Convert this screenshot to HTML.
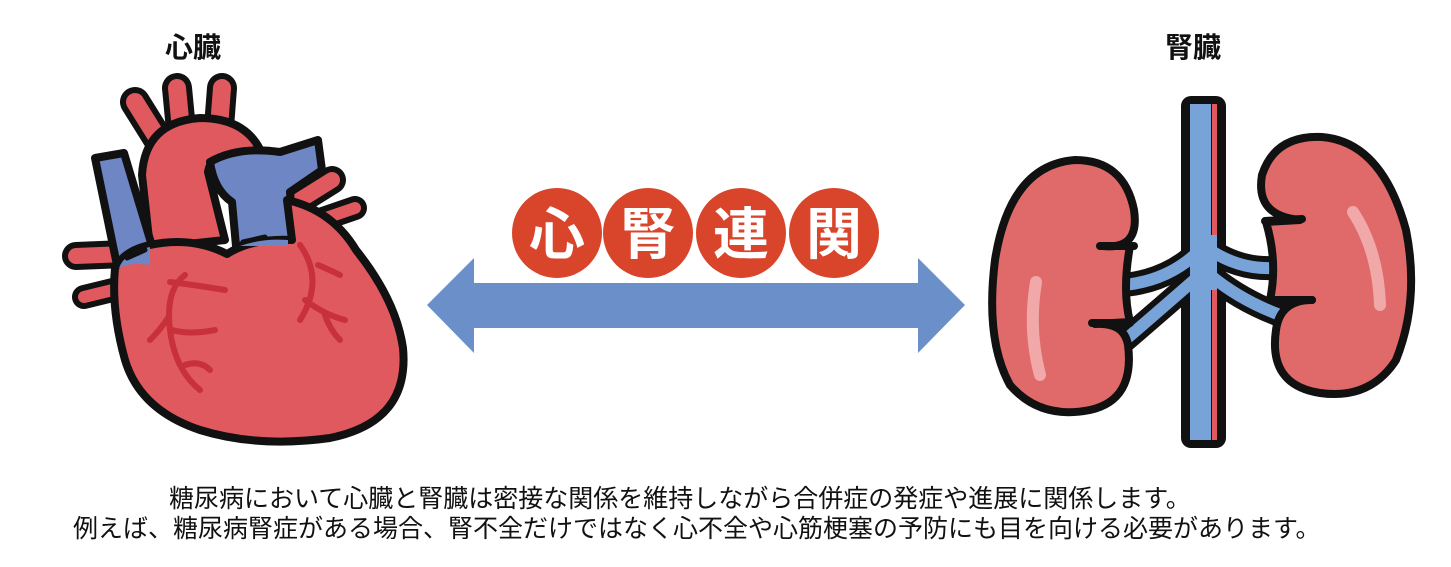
<!DOCTYPE html>
<html><head><meta charset="utf-8"><style>
html,body{margin:0;padding:0;background:#fff;}
body{width:1451px;height:567px;position:relative;overflow:hidden;font-family:"Liberation Sans","Noto Sans CJK JP",sans-serif;}
.t{position:absolute;font-size:25px;color:#111;white-space:nowrap;line-height:30px;}
.lbl{position:absolute;font-size:28px;font-weight:bold;color:#111;}
</style></head><body>
<svg width="1451" height="567" style="position:absolute;left:0;top:0" stroke-linejoin="round" stroke-linecap="round">
<g>
 <line x1="135" y1="102" x2="165" y2="150" stroke="#111" stroke-width="30"/>
 <line x1="135" y1="102" x2="165" y2="150" stroke="#e0595f" stroke-width="18"/>
 <line x1="177" y1="88" x2="182" y2="140" stroke="#111" stroke-width="30"/>
 <line x1="177" y1="88" x2="182" y2="140" stroke="#e0595f" stroke-width="18"/>
 <line x1="222" y1="88" x2="218" y2="140" stroke="#111" stroke-width="30"/>
 <line x1="222" y1="88" x2="218" y2="140" stroke="#e0595f" stroke-width="18"/>
 <line x1="76" y1="256" x2="125" y2="254" stroke="#111" stroke-width="28"/>
 <line x1="76" y1="256" x2="125" y2="254" stroke="#e0595f" stroke-width="16"/>
 <line x1="84" y1="297" x2="125" y2="287" stroke="#111" stroke-width="24"/>
 <line x1="84" y1="297" x2="125" y2="287" stroke="#e0595f" stroke-width="12"/>
 <line x1="300" y1="200" x2="332" y2="180" stroke="#111" stroke-width="28"/>
 <line x1="300" y1="200" x2="332" y2="180" stroke="#e0595f" stroke-width="16"/>
 <line x1="320" y1="220" x2="355" y2="208" stroke="#111" stroke-width="24"/>
 <line x1="320" y1="220" x2="355" y2="208" stroke="#e0595f" stroke-width="12"/>
 <path d="M150,248 L142,175 Q145,122 200,118 Q252,118 265,162 L232,168 Q212,150 208,172 L225,240 Z" fill="#e0595f" stroke="#111" stroke-width="8"/>
 <path d="M95,158 L124,153 L152,246 L118,270 Z" fill="#6f86c4" stroke="#111" stroke-width="8"/>
 <path d="M210,162 Q238,146 280,152 L318,140 L322,170 L290,192 L294,242 L236,246 L232,202 Q214,190 210,162 Z" fill="#6f86c4" stroke="#111" stroke-width="8"/>
 <path d="M115,268 Q125,250 150,245 Q192,236 227,254 Q252,238 292,240 L287,200 Q332,210 356,250 Q396,300 403,348 Q410,422 330,438 Q258,448 200,430 Q140,410 125,360 Q111,310 115,268 Z" fill="#e0595f" stroke="#111" stroke-width="8"/>
 <path d="M119,268 Q125,252 150,247 L150,265 Q130,262 119,268 Z" fill="#6f86c4"/>
 <path d="M240,246 Q262,238 288,240 L288,246 Z" fill="#6f86c4"/>
 <line x1="127" y1="258" x2="145" y2="250" stroke="#111" stroke-width="5"/>
 <line x1="243" y1="242" x2="265" y2="237" stroke="#111" stroke-width="5"/>
 <g fill="none" stroke="#c8303a" stroke-width="6">
  <path d="M185,275 Q165,290 170,330 Q175,370 200,390"/>
  <path d="M170,282 Q195,285 225,290"/>
  <path d="M172,330 Q190,335 215,330"/>
  <path d="M168,318 Q160,330 150,340"/>
  <path d="M185,365 Q200,360 210,370"/>
  <path d="M300,245 Q325,280 300,320"/>
  <path d="M318,265 Q330,270 340,275"/>
  <path d="M305,300 Q325,315 345,320"/>
  <path d="M325,315 Q330,330 340,340"/>
 </g>
</g>
<polygon points="427,305 474,258 474,283 918,283 918,258 965,305 918,353 918,328 474,328 474,353" fill="#6a8fc9"/>
<g fill="#d9452b">
 <circle cx="557" cy="233" r="45"/><circle cx="648" cy="233" r="45"/><circle cx="741" cy="233" r="45"/><circle cx="834" cy="233" r="45"/>
</g>
<g font-family="'Liberation Sans','Noto Sans CJK JP',sans-serif" font-weight="bold" font-size="56" fill="#fff" text-anchor="middle">
 <text x="557" y="254">心</text><text x="648" y="254">腎</text><text x="741" y="254">連</text><text x="834" y="254">関</text>
</g>
<g>
 <g stroke="#111" stroke-width="24" fill="none">
  <path d="M1200,250 Q1170,280 1125,285"/>
  <path d="M1200,275 Q1160,310 1125,340"/>
  <path d="M1210,250 Q1240,270 1275,268"/>
  <path d="M1210,275 Q1240,300 1280,315"/>
 </g>
 <rect x="1181" y="96" width="45" height="352" rx="10" fill="#111"/>
 <g stroke="#78a3d8" stroke-width="12" fill="none">
  <path d="M1200,250 Q1170,280 1125,285"/>
  <path d="M1200,275 Q1160,310 1125,340"/>
  <path d="M1210,250 Q1240,270 1275,268"/>
  <path d="M1210,275 Q1240,300 1280,315"/>
 </g>
 <rect x="1190" y="104" width="21" height="336" fill="#78a3d8"/>
 <rect x="1212" y="104" width="5" height="336" fill="#e0595f"/>
 <path d="M1190,235 L1217,235 L1217,290 L1190,290 Z" fill="#78a3d8"/>
 <path d="M1103,246 Q1140,250 1134,210 Q1124,160 1075,160 Q1010,165 995,260 Q985,340 1010,385 Q1040,420 1090,410 Q1135,400 1128,345 Q1124,322 1095,324 L1130,322 Q1122,290 1130,246 Z" fill="#e06a6a" stroke="#111" stroke-width="8"/>
 <line x1="1100" y1="246" x2="1134" y2="246" stroke="#111" stroke-width="8"/>
 <line x1="1092" y1="323" x2="1130" y2="323" stroke="#111" stroke-width="8"/>
 <path d="M1036,282 Q1028,330 1040,375" stroke="#f0a8a8" stroke-width="12" fill="none"/>
 <path d="M1300,220 Q1255,216 1262,175 Q1275,135 1322,137 Q1382,142 1406,230 Q1420,300 1396,360 Q1370,400 1320,393 Q1268,385 1276,330 Q1280,300 1312,300 L1270,300 Q1278,262 1266,222 Z" fill="#e06a6a" stroke="#111" stroke-width="8"/>
 <line x1="1265" y1="221" x2="1302" y2="219" stroke="#111" stroke-width="8"/>
 <line x1="1270" y1="300" x2="1312" y2="300" stroke="#111" stroke-width="8"/>
 <path d="M1353,212 Q1378,250 1380,305" stroke="#f0a8a8" stroke-width="12" fill="none"/>
</g>
</svg>
<div class="lbl" style="left:165px;top:26px;">心臓</div>
<div class="lbl" style="left:1165px;top:26px;">腎臓</div>
<div class="t" style="left:169px;top:484px;">糖尿病において心臓と腎臓は密接な関係を維持しながら合併症の発症や進展に関係します。</div>
<div class="t" style="left:73px;top:514px;">例えば、糖尿病腎症がある場合、腎不全だけではなく心不全や心筋梗塞の予防にも目を向ける必要があります。</div>
</body></html>
